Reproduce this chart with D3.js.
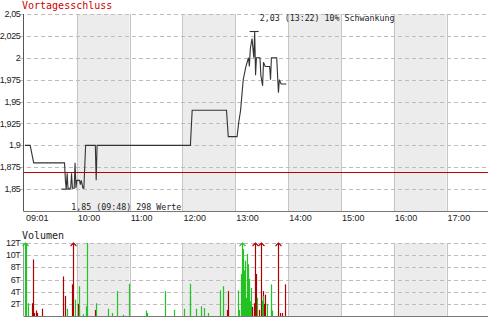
<!DOCTYPE html>
<html>
<head>
<meta charset="utf-8">
<script src="https://cdn.jsdelivr.net/npm/d3@7"></script>
<style>
  body { margin: 0; background: #fff; }
  svg { display: block; }
  .lbl { font-family: "Liberation Sans", Arial, sans-serif; font-size: 9px; fill: #222; }
  .ylbl { letter-spacing: -0.35px; }
  .mono { font-family: "DejaVu Sans Mono", monospace; }
</style>
</head>
<body>
<div id="chart"></div>
<script>
// price ticks (time, price)
const priceTimes = ["09:01","09:07","09:11","09:46","09:47","09:48","09:49","09:50","09:53","09:54","09:55","09:57","09:58","09:59","10:00","10:03","10:04","10:05","10:07","10:08","10:10","10:21","10:22","10:23","12:09","12:11","12:50","12:52","13:02","13:04","13:06","13:09","13:12","13:15","13:16","13:17","13:19","13:21","13:22","13:23","13:24","13:28","13:29","13:31","13:32","13:34","13:39","13:40","13:41","13:47","13:48","13:49","13:50","13:52","13:58"];
const priceValues = [1.90,1.90,1.88,1.88,1.86,1.85,1.868,1.851,1.851,1.868,1.851,1.851,1.88,1.851,1.86,1.86,1.855,1.86,1.851,1.851,1.90,1.90,1.86,1.90,1.90,1.94,1.94,1.91,1.91,1.927,1.94,1.975,1.99,2.00,1.99,2.01,2.022,2.00,2.03,1.98,2.00,2.00,1.98,1.968,1.995,1.99,1.99,1.975,2.00,2.00,1.98,1.96,1.975,1.97,1.97];
const prevClose = 1.87;
const tickCount = 298;

// volume per tick (thousands), direction of the tick
const volTimes = ["09:01","09:02","09:05","09:09","09:10","09:11","09:14","09:15","09:21","09:44","09:47","09:49","09:55","09:56","09:58","10:01","10:02","10:03","10:07","10:10","10:11","10:21","10:22","10:35","10:40","10:46","10:53","10:59","11:18","11:20","11:40","11:50","12:02","12:08","12:09","12:15","12:21","12:24","12:29","12:43","12:46","12:51","12:52","13:03","13:04","13:06","13:08","13:09","13:10","13:11","13:12","13:13","13:14","13:15","13:16","13:17","13:18","13:19","13:21","13:22","13:23","13:24","13:25","13:27","13:29","13:30","13:31","13:32","13:33","13:34","13:36","13:40","13:41","13:42","13:49","13:51","13:53","13:57"];
const volValues = [14,12,2.1,2.1,9.3,0.5,0.9,0.5,1.2,6.5,3.3,1.2,5.2,14,2.7,2.0,4.9,0.9,0.3,1.6,12,1.0,2.1,1.2,0.5,4.1,0.2,5.3,0.9,0.5,4.1,1.0,1.2,3.3,5.3,1.2,1.6,1.3,0.5,4.2,4.9,1.0,4.1,4.2,1.0,6.9,14,11.0,7.5,9.1,3.0,10.2,8.5,2.5,6.1,2.4,4.6,1.5,2.1,14,2.0,6.9,3.0,1.0,14,2.5,4.1,3.3,2.0,3.5,2.0,5.2,1.3,0.9,14,0.5,0.5,5.2];
const volDir = ["+","+","+","-","-","-","-","-","-","-","-","+","-","-","+","-","+","+","+","+","+","-","+","+","+","+","+","+","+","+","+","+","+","+","+","+","+","+","+","+","+","-","-","+","+","+","+","+","+","+","+","+","+","+","+","+","+","-","-","-","+","-","+","-","-","+","-","+","-","-","+","+","+","+","-","-","-","-"];

const priceTicks = [1.85,1.875,1.9,1.925,1.95,1.975,2,2.025,2.05];
const volTicks = [2,4,6,8,10,12];
const hourLabels = ["09:01","10:00","11:00","12:00","13:00","14:00","15:00","16:00","17:00"];

const width = 491, height = 320;
const left = 24, right = 488;
const main = { top: 14, bottom: 211 };
const vol = { top: 243, bottom: 316 };

const parseT = d3.timeParse("%H:%M");
const fmtNum = v => String(v).replace(".", ",");

const x = d3.scaleTime()
  .domain([parseT("09:00"), parseT("17:47")])
  .range([left, right]);
const y = d3.scaleLinear().domain([1.825, 2.05]).range([main.bottom, main.top]);
const yv = d3.scaleLinear().domain([0, 12]).range([vol.bottom, vol.top]);

const svg = d3.select("#chart").append("svg")
  .attr("width", width).attr("height", height);

const hours = d3.range(10, 18).map(h => parseT(h + ":00"));

function drawFrame(top, bottom) {
  const g = svg.append("g");
  // shaded hour bands
  g.selectAll("rect").data([10, 12, 14, 16]).enter().append("rect")
    .attr("x", h => x(parseT(h + ":00")))
    .attr("width", h => x(parseT((h + 1) + ":00")) - x(parseT(h + ":00")))
    .attr("y", top).attr("height", bottom - top)
    .attr("fill", "#ececec");
  // hour lines
  g.selectAll("line.hr").data(hours).enter().append("line")
    .attr("class", "hr")
    .attr("x1", d => Math.round(x(d)) + 0.5).attr("x2", d => Math.round(x(d)) + 0.5)
    .attr("y1", top).attr("y2", bottom)
    .attr("stroke", "#c6c6c6");
  return g;
}

// ---- price panel
const gm = drawFrame(main.top, main.bottom);
gm.selectAll("line.grid").data(priceTicks).enter().append("line")
  .attr("x1", left - 4).attr("x2", right)
  .attr("y1", d => Math.round(y(d)) + 0.5).attr("y2", d => Math.round(y(d)) + 0.5)
  .attr("stroke", "#bdbdbd").attr("stroke-dasharray", "4,3");
svg.selectAll("text.yl").data(priceTicks).enter().append("text")
  .attr("class", "lbl ylbl")
  .attr("x", 20.5).attr("y", d => y(d)).attr("dy", "0.35em")
  .attr("text-anchor", "end")
  .text(d => fmtNum(d));

// previous close
svg.append("line")
  .attr("x1", left).attr("x2", right)
  .attr("y1", Math.round(y(prevClose)) + 0.5).attr("y2", Math.round(y(prevClose)) + 0.5)
  .attr("stroke", "#c00000").attr("stroke-width", 1.2);

// axes
svg.append("line").attr("x1", left - 0.5).attr("x2", left - 0.5)
  .attr("y1", main.top).attr("y2", main.bottom + 0.5).attr("stroke", "#555");
svg.append("line").attr("x1", left).attr("x2", right)
  .attr("y1", main.bottom + 0.5).attr("y2", main.bottom + 0.5).attr("stroke", "#777");

const priceData = priceTimes.map((t, i) => ({ t: parseT(t), v: priceValues[i] }));
svg.append("path")
  .datum(priceData)
  .attr("fill", "none").attr("stroke", "#333").attr("stroke-width", 1.1)
  .attr("d", d3.line().x(d => x(d.t)).y(d => y(d.v)));

// high / low markers
const hi = priceData.reduce((a, b) => b.v > a.v ? b : a);
const lo = priceData.reduce((a, b) => b.v < a.v ? b : a);
[hi, lo].forEach(p => {
  svg.append("line")
    .attr("x1", x(p.t) - 5).attr("x2", x(p.t) + 4)
    .attr("y1", y(p.v)).attr("y2", y(p.v))
    .attr("stroke", "#333").attr("stroke-width", 1.1);
});
const fmtTime = d3.timeFormat("%H:%M");
svg.append("text").attr("class", "mono")
  .attr("x", x(hi.t) + 5).attr("y", 20.5)
  .attr("font-size", "8.3px").attr("fill", "#222")
  .text(`${fmtNum(hi.v)} (${fmtTime(hi.t)}) 10% Schwankung`);
svg.append("text").attr("class", "mono")
  .attr("x", x(lo.t) + 5).attr("y", 210)
  .attr("font-size", "8.3px").attr("fill", "#222")
  .text(`${fmtNum(lo.v)} (${fmtTime(lo.t)}) ${tickCount} Werte`);

svg.append("text").attr("class", "mono")
  .attr("x", 22).attr("y", 9)
  .attr("font-size", "10px").attr("fill", "#cc0000")
  .text("Vortagesschluss");

// x labels
svg.selectAll("text.xl").data(hourLabels).enter().append("text")
  .attr("class", "lbl")
  .attr("x", d => x(parseT(d)) + 1).attr("y", 221)
  .text(d => d);

// ---- volume panel
svg.append("text").attr("class", "mono")
  .attr("x", 22).attr("y", 238.5)
  .attr("font-size", "10px").attr("fill", "#222")
  .text("Volumen");

const gv = drawFrame(vol.top, vol.bottom);
gv.selectAll("line.grid").data(volTicks).enter().append("line")
  .attr("x1", left - 4).attr("x2", right)
  .attr("y1", d => Math.round(yv(d)) + 0.5).attr("y2", d => Math.round(yv(d)) + 0.5)
  .attr("stroke", "#bdbdbd").attr("stroke-dasharray", "4,3");
svg.selectAll("text.vl").data(volTicks).enter().append("text")
  .attr("class", "lbl ylbl")
  .attr("x", 20.5).attr("y", d => yv(d)).attr("dy", "0.35em")
  .attr("text-anchor", "end")
  .text(d => d + "T");

svg.append("line").attr("x1", left - 0.5).attr("x2", left - 0.5)
  .attr("y1", vol.top).attr("y2", vol.bottom + 0.5).attr("stroke", "#999");
svg.append("line").attr("x1", left).attr("x2", right)
  .attr("y1", vol.bottom + 0.5).attr("y2", vol.bottom + 0.5).attr("stroke", "#777");

const volData = volTimes.map((t, i) => ({ t: parseT(t), v: volValues[i], up: volDir[i] === "+" }));
const colUp = "#22c322", colDown = "#ad0000";
const bars = svg.append("g");
bars.selectAll("line").data(volData).enter().append("line")
  .attr("x1", d => Math.round(x(d.t)) + 0.5).attr("x2", d => Math.round(x(d.t)) + 0.5)
  .attr("y1", vol.bottom).attr("y2", d => yv(Math.min(d.v, 12)))
  .attr("stroke", d => d.up ? colUp : colDown).attr("stroke-width", 1.2);
bars.selectAll("path").data(volData.filter(d => d.v > 12)).enter().append("path")
  .attr("d", d => {
    const cx = Math.round(x(d.t)) + 0.5, ty = yv(12);
    return `M${cx - 3},${ty + 3}L${cx},${ty}L${cx + 3},${ty + 3}`;
  })
  .attr("fill", "none").attr("stroke", d => d.up ? colUp : colDown).attr("stroke-width", 1.1);
</script>
</body>
</html>
